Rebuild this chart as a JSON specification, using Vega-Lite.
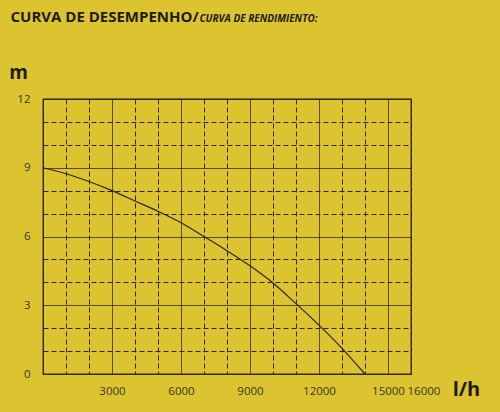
{
  "$schema": "https://vega.github.io/schema/vega-lite/v6.json",
  "width": 368,
  "height": 275,
  "autosize": {"type": "none"},
  "padding": {"left": 43, "top": 99, "right": 89, "bottom": 38},
  "background": "#dcc330",
  "config": {
    "view": {"stroke": "#2b2616", "strokeWidth": 1.3},
    "axis": {
      "labelFont": "Open Sans",
      "labelColor": "#3b3526",
      "labelFontSize": 11.5,
      "titleFont": "Open Sans",
      "titleColor": "#1f1b10",
      "titleFontWeight": "bold",
      "domain": false,
      "ticks": false
    }
  },
  "data": {
    "values": [
      {"flow": 0, "head": 9.0},
      {"flow": 1000, "head": 8.74},
      {"flow": 2000, "head": 8.4},
      {"flow": 3000, "head": 8.0},
      {"flow": 4000, "head": 7.55},
      {"flow": 5000, "head": 7.1},
      {"flow": 6000, "head": 6.6},
      {"flow": 7000, "head": 6.0},
      {"flow": 8000, "head": 5.38},
      {"flow": 9000, "head": 4.72},
      {"flow": 10000, "head": 3.97},
      {"flow": 11000, "head": 3.07},
      {"flow": 12000, "head": 2.13},
      {"flow": 13000, "head": 1.12},
      {"flow": 14000, "head": 0}
    ]
  },
  "layer": [
    {
      "mark": {"type": "line", "interpolate": "monotone", "color": "#2b2616", "strokeWidth": 1.2},
      "encoding": {
        "x": {
          "field": "flow", "type": "quantitative",
          "scale": {"domain": [0, 16000], "nice": false},
          "axis": {
            "orient": "bottom",
            "values": [0, 1000, 2000, 3000, 4000, 5000, 6000, 7000, 8000, 9000, 10000, 11000, 12000, 13000, 14000, 15000, 16000],
            "format": "d",
            "labelExpr": "(datum.value % 3000 === 0 && datum.value > 0) || datum.value === 16000 ? datum.label : ''",
            "labelOverlap": false,
            "labelPadding": 11,
            "labelAlign": {"condition": {"test": "datum.value === 16000", "value": "left"}, "value": "center"},
            "labelOffset": {"condition": {"test": "datum.value === 16000", "value": -4}, "value": 0},
            "grid": true,
            "gridColor": "#2b2616",
            "gridWidth": 1,
            "gridDash": {"condition": {"test": "datum.value % 3000 === 0", "value": [1, 0]}, "value": [5, 3]},
            "title": "l/h",
            "titleFontSize": 20,
            "titleAlign": "center",
            "titleBaseline": "alphabetic",
            "titleX": 423,
            "titleY": 21
          }
        },
        "y": {
          "field": "head", "type": "quantitative",
          "scale": {"domain": [0, 12], "nice": false},
          "axis": {
            "orient": "left",
            "values": [0, 1, 2, 3, 4, 5, 6, 7, 8, 9, 10, 11, 12],
            "labelExpr": "datum.value % 3 === 0 ? datum.label : ''",
            "labelPadding": 13,
            "grid": true,
            "gridColor": "#2b2616",
            "gridWidth": 1,
            "gridDash": {"condition": {"test": "datum.value % 3 === 0", "value": [1, 0]}, "value": [5, 3]},
            "title": "m",
            "titleFontSize": 19,
            "titleAngle": 0,
            "titleAlign": "center",
            "titleBaseline": "alphabetic",
            "titleX": -25,
            "titleY": -21
          }
        }
      }
    },
    {
      "mark": {"type": "line", "opacity": 0},
      "encoding": {
        "x": {
          "field": "flow", "type": "quantitative",
          "axis": {
            "orient": "top", "labels": false, "grid": false,
            "title": "CURVA DE DESEMPENHO/",
            "titleFontSize": 15,
            "titleAlign": "left",
            "titleBaseline": "alphabetic",
            "titleAngle": 0,
            "titleX": -33,
            "titleY": -78
          }
        },
        "y": {
          "field": "head", "type": "quantitative",
          "axis": {
            "orient": "right", "labels": false, "grid": false,
            "title": "CURVA DE RENDIMIENTO:",
            "titleFontSize": 10,
            "titleFontStyle": "italic",
            "titleAlign": "left",
            "titleBaseline": "alphabetic",
            "titleAngle": 0,
            "titleX": -212,
            "titleY": -78
          }
        }
      }
    }
  ],
  "resolve": {"axis": {"x": "independent", "y": "independent"}}
}
